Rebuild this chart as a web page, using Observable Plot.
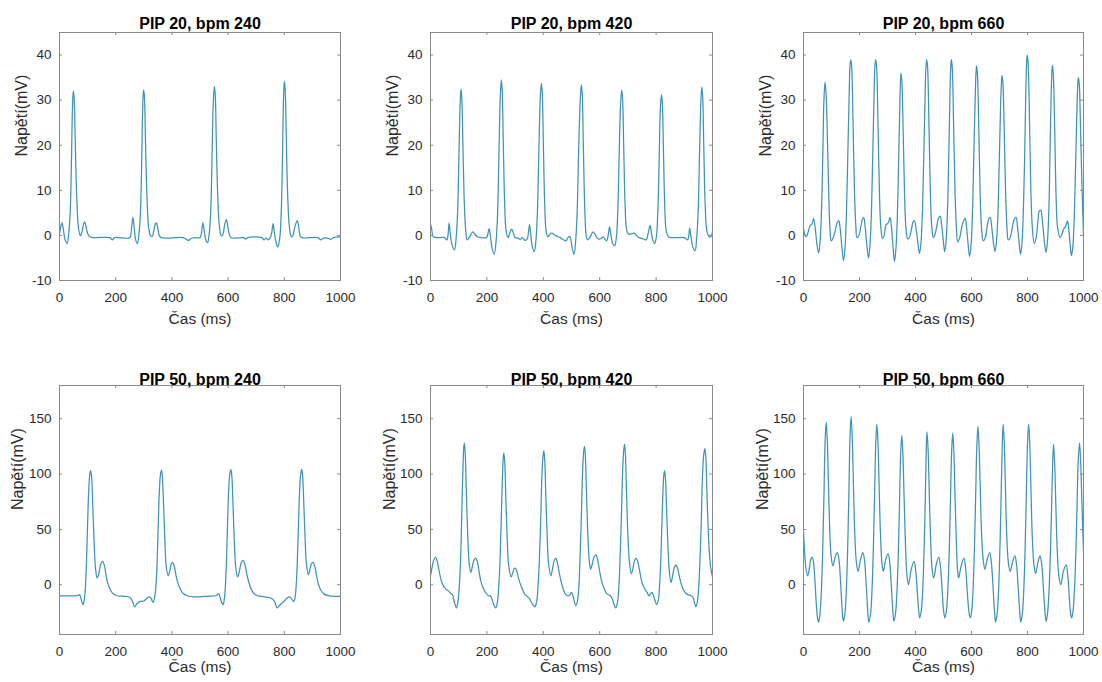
<!DOCTYPE html>
<html>
<head>
<meta charset="utf-8">
<script src="https://cdn.jsdelivr.net/npm/d3@7"></script>
<script src="https://cdn.jsdelivr.net/npm/@observablehq/plot@0.6"></script>
<style>
  html, body { margin: 0; padding: 0; background: #fff; }
  #wrap { position: relative; width: 1102px; height: 682px; overflow: hidden; font-family: "Liberation Sans", Arial, Helvetica, sans-serif; }
  .panel { position: absolute; }
</style>
</head>
<body>
<div id="wrap"></div>
<script>
// ---------- data ----------
const titles = ["PIP 20, bpm 240", "PIP 20, bpm 420", "PIP 20, bpm 660",
                "PIP 50, bpm 240", "PIP 50, bpm 420", "PIP 50, bpm 660"];
const xLabel = "Čas (ms)";
const yLabel = "Napětí(mV)";
const xTicks = [0, 200, 400, 600, 800, 1000];
const yTicksTop = [-10, 0, 10, 20, 30, 40];
const yTicksBottom = [0, 50, 100, 150];
const yDomainTop = [-10, 45];
const yDomainBottom = [-45, 180];

// [time ms, voltage mV]
const pip20bpm240 = [[0,0.3],[4,1.8],[9,2.8],[14,1.2],[20,-1],[27,-1.8],[33,0.5],[38,5],[43,18],[46,28],[49,32],[52,30.5],[56,21],[61,9],[67,2],[74,-0.1],[80,0.8],[86,2.6],[90,3],[95,1.8],[101,0.3],[108,-0.3],[120,-0.5],[180,-0.5],[188,-1],[196,-0.5],[250,-0.5],[255,0.8],[261,4],[266,1.5],[271,-1],[277,-1.8],[283,0.5],[288,5],[293,18],[296,28],[299,32.3],[302,31],[306,21],[311,9],[317,2],[324,-0.1],[330,-0.2],[336,1.2],[341,2.5],[345,2.8],[350,1.5],[355,0],[362,-0.5],[440,-0.5],[452,-0.9],[460,-1.1],[468,-0.7],[480,-0.5],[500,-0.5],[505,0.5],[510,2.8],[515,1],[521,-1],[527,-1.6],[533,0.5],[538,5],[543,18],[547,29],[551,33],[554,31.5],[558,21],[563,9],[569,2],[576,-0.1],[582,0.3],[588,2.5],[594,3.5],[599,2],[604,0.3],[611,-0.5],[655,-0.5],[662,-0.8],[670,-0.5],[720,-0.5],[728,-1],[735,-0.6],[742,-1],[750,-0.5],[755,0.5],[760,2.6],[765,0.5],[771,-1.5],[777,-2.6],[784,-0.5],[789,5],[794,19],[797,30],[800,34.2],[803,32.5],[807,22],[812,9],[818,2],[825,-0.3],[831,0],[838,2],[846,3.3],[851,2],[856,0],[862,-0.5],[920,-0.5],[930,-1],[940,-0.6],[955,-0.6],[965,-0.9],[975,-0.5],[1000,-0.3]];

const pip20bpm420 = [[0,2.5],[4,1.5],[9,-0.2],[20,-0.5],[50,-0.5],[58,-1],[62,0],[66,2.7],[70,0.5],[76,-2],[85,-3.2],[91,-0.5],[96,5],[101,18],[105,29],[108,32.5],[111,30.5],[115,20],[120,7],[125,1],[130,-1],[137,-0.5],[144,0.3],[151,0.8],[158,0.2],[166,-0.3],[180,-0.5],[198,-0.5],[203,0.2],[208,1.5],[213,-0.5],[219,-3],[226,-4.2],[233,-1],[238,5],[243,19],[247,30],[251,34.5],[254,32.5],[258,21],[263,7],[268,1],[275,-0.5],[281,0.5],[288,1.4],[294,0.5],[300,-0.5],[310,-0.6],[318,-0.9],[325,-0.5],[335,-1.1],[343,-0.8],[347,0.5],[351,2.4],[355,0.5],[361,-2.5],[368,-3.6],[374,-1],[379,5],[384,18],[389,30],[393,33.7],[396,32],[400,21],[405,7],[410,1],[416,-0.3],[423,0.2],[430,0.5],[438,0.2],[445,-0.1],[460,-0.5],[470,-0.9],[480,-1.2],[486,-0.6],[490,-0.3],[494,-0.2],[498,-1],[503,-3],[509,-4.2],[515,-1],[520,5],[525,18],[531,30],[535,33.4],[538,31.5],[542,20],[547,6],[552,0],[556,-1],[565,-0.5],[576,0.8],[583,0.3],[590,-0.5],[597,-0.8],[605,-0.7],[612,-0.3],[618,-0.8],[625,-1.2],[630,0],[635,1.9],[640,0],[646,-1.8],[653,-2.3],[659,-0.5],[664,5],[669,18],[674,29],[678,32.3],[681,30.5],[685,20],[690,7],[695,1.5],[702,0.3],[712,0.3],[722,0.5],[730,0],[740,-0.5],[755,-0.8],[765,-1],[772,0.5],[779,2.2],[784,0.3],[789,-1.2],[795,-1.8],[801,-0.3],[806,5],[811,17],[815,28],[819,31.2],[822,29.5],[826,19],[831,6],[836,1],[844,-0.3],[860,-0.5],[900,-0.5],[912,-1],[916,0],[919,1.6],[923,0],[930,-2.5],[938,-3.4],[944,-0.5],[949,5],[954,18],[959,30],[962,32.9],[965,31],[969,20],[974,7],[980,1],[988,-0.3],[994,-0.3],[1000,0.8]];

const pip20bpm660 = [[0,1.5],[5,0.2],[10,-0.3],[17,0.8],[24,2.2],[30,2.5],[36,3.8],[42,1.5],[48,-2],[54,-3.9],
[59,-1.5],[64,5],[69,18],[73,30],[77,34],[81,31],[86,20],[91,7],[95,1],[99,-1.2],[106,-0.5],[113,1],[120,2.8],[126,3.3],[131,1.5],[137,-2.5],[143,-5.6],
[148,-3],[153,4],[158,17],[163,31],[166,37.5],[169,39],[172,37.5],[177,25],[182,10],[187,2],[191,-0.5],[198,0],[205,2],[210,3.5],[215,4],[220,2],[226,-2],[232,-5],
[237,-2.5],[242,4],[247,17],[252,31],[255,37.5],[258,39],[261,37.5],[266,25],[271,10],[276,2],[282,-0.7],[288,0],[294,2.3],[298,2.5],[303,2.8],[309,4],[314,2],[319,-2],[325,-5.8],
[330,-3],[335,4],[340,17],[344,29],[348,36],[351,34.5],[356,23],[361,9],[366,1.5],[372,-0.8],[379,-0.3],[386,1.5],[391,3],[396,3.3],[402,1.5],[408,-1.5],[414,-4],
[419,-2],[424,4],[429,16],[434,30],[437,37],[440,39],[443,37.5],[448,25],[453,10],[458,2],[464,-0.5],[470,0.3],[476,2],[482,3.8],[488,4.3],[493,2.5],[499,-1],[504,-3.6],
[509,-1.5],[514,5],[519,18],[523,31],[526,37.5],[528,39],[531,37.5],[536,25],[541,10],[546,2],[551,-1.5],[558,-0.5],[564,1.5],[570,3],[574,3.5],[578,3.8],[582,2],[588,-2],[593,-4.7],
[598,-2.5],[603,4],[608,17],[613,30],[616,36],[618,37.6],[621,36],[626,24],[631,9],[636,1.5],[642,-1.2],[649,-0.5],[655,1.5],[661,3.5],[667,4],[672,2],[678,-1.5],[684,-3.6],
[689,-1.5],[694,4],[699,16],[704,29],[707,34],[709,35.5],[712,34],[717,23],[722,9],[727,1.5],[731,-1],[738,-0.5],[745,1.5],[752,3.5],[759,4],[764,2],[770,-1.5],[775,-4.2],
[780,-2],[785,5],[790,18],[794,32],[797,38.5],[799,40],[802,38.5],[807,26],[812,10],[817,2],[824,-1.8],[831,-0.5],[837,3],[842,5.4],[847,5.6],[852,4],[858,0],[866,-3.8],
[871,-1.5],[876,5],[880,17],[884,30],[887,36],[889,37.7],[892,36],[897,24],[902,9],[907,2],[916,-0.5],[923,0.3],[930,1.5],[936,2],[943,3.2],[948,1],[953,-2.5],[957,-4.5],
[962,-2.5],[967,4],[972,16],[977,29],[980,34],[982,35],[985,33.5],[990,22],[995,10],[1000,0]];

const pip50bpm240 = [[0,-10],[30,-10],[60,-10],[66,-9.5],[71,-9],[76,-12],[80,-16],[84,-18],[88,-14],[92,-3],[96,20],[100,55],[104,85],[108,100],[111,103],[114,98],[118,75],[123,40],[128,15],[134,6],[140,10],[146,18],[153,21],[160,17],[166,8],[172,1],[180,-4],[190,-8],[205,-10],[230,-10.5],[250,-11.5],[258,-14],[268,-20],[276,-17],[288,-15],[296,-15],[304,-14],[312,-12],[321,-11],[327,-13],[333,-16],[338,-12],[343,-2],[347,18],[351,50],[355,82],[359,99],[363,103.5],[366,98],[370,75],[375,40],[380,16],[387,8],[393,13],[398,19],[403,20],[409,16],[415,8],[422,1],[430,-4],[440,-8],[455,-10],[480,-11],[520,-10.5],[555,-10],[562,-9],[567,-8],[572,-12],[577,-16],[582,-18],[586,-14],[590,-3],[594,20],[598,55],[602,85],[606,100],[610,104],[613,99],[617,76],[622,40],[627,16],[634,7],[640,12],[647,20],[654,22],[660,18],[667,9],[674,2],[682,-4],[692,-8],[705,-10],[730,-11],[755,-12.5],[765,-15],[775,-21],[782,-19],[790,-17],[800,-15],[810,-12],[818,-11],[826,-13],[834,-15],[838,-12],[842,-2],[846,18],[850,50],[854,82],[858,99],[862,104.5],[865,99],[869,76],[874,42],[879,18],[886,9],[892,15],[898,19.5],[903,20],[909,16],[915,8],[922,0],[930,-5],[942,-8.5],[960,-10],[980,-10.5],[1000,-10.5]];

const pip50bpm420 = [[0,8],[5,15],[10,21],[18,25],[24,21],[30,13],[36,6],[42,1],[48,-2],[55,-4],[65,-6],[72,-8],[78,-9],[84,-15],[92,-21],[97,-16],[102,-2],[107,25],[111,65],[115,105],[118,124],[120,128],[123,120],[127,85],[132,45],[137,20],[143,11],[148,16],[154,22],[160,24],[166,21],[172,12],[178,4],[185,-2],[195,-7],[205,-10],[212,-10],[218,-13],[224,-18],[231,-21],[237,-16],[242,-2],[247,25],[251,60],[255,97],[258,115],[260,119],[263,112],[267,80],[272,42],[277,18],[286,7],[292,11],[298,15],[303,14],[310,8],[318,1],[326,-4],[335,-9],[345,-11],[352,-13],[360,-17],[370,-20],[376,-16],[381,-3],[386,22],[391,60],[395,98],[399,116],[402,121],[405,113],[409,80],[414,42],[419,18],[427,8],[433,15],[439,22],[444,24],[450,20],[457,10],[464,2],[472,-5],[480,-9],[490,-10],[495,-9],[500,-7],[505,-10],[510,-15],[515,-19],[521,-15],[526,-2],[530,22],[535,62],[539,100],[543,120],[546,125],[549,117],[553,85],[558,45],[563,22],[568,14],[574,19],[580,25],[587,27],[593,22],[600,12],[607,3],[615,-3],[625,-8],[638,-10],[645,-13],[651,-18],[657,-21],[663,-16],[668,-2],[672,22],[677,62],[681,100],[685,121],[688,127],[691,119],[695,85],[700,45],[705,22],[712,10],[718,15],[724,22],[729,24],[735,21],[742,12],[750,2],[758,-3],[768,-7],[775,-10],[781,-8],[786,-7],[792,-11],[797,-15],[802,-18],[808,-14],[812,-2],[816,18],[820,50],[824,82],[827,98],[830,103],[833,97],[837,70],[842,35],[847,12],[853,2],[858,7],[864,15],[870,18],[876,15],[882,8],[890,0],[900,-6],[912,-9],[925,-10],[932,-12],[936,-16],[941,-20],[946,-16],[951,-3],[955,18],[960,55],[964,95],[968,115],[971,121],[973,123],[976,117],[980,85],[985,48],[990,25],[995,13],[1000,7]];

const pip50bpm660 = [[0,48],[4,30],[9,14],[15,8],[21,15],[26,23],[31,25],[36,20],[41,3],[46,-18],[50,-30],[54,-34],
[59,-26],[64,-5],[69,35],[73,80],[77,128],[81,147],[85,130],[89,92],[94,48],[99,25],[105,17],[113,25],[121,29],[127,22],[132,4],[137,-18],[140,-29],[143,-33],
[148,-26],[153,-5],[158,35],[162,82],[166,132],[170,152],[174,134],[178,94],[183,47],[189,20],[195,12],[203,22],[212,29],[218,22],[223,4],[228,-18],[231,-30],[233,-34],
[240,-25],[245,-3],[250,38],[254,82],[258,127],[262,145],[266,128],[270,90],[275,45],[280,20],[285,12],[293,22],[302,28],[308,20],[313,2],[318,-20],[321,-30],[323,-33],
[329,-25],[334,-5],[339,32],[343,75],[347,118],[351,135],[355,118],[359,82],[364,38],[369,10],[375,0],[385,14],[395,21],[401,12],[406,-5],[411,-22],[415,-30],
[421,-23],[426,-3],[431,35],[435,78],[438,118],[441,138],[445,122],[449,84],[454,40],[459,15],[465,6],[474,18],[483,25],[489,17],[494,0],[499,-20],[502,-27],[505,-30],
[511,-22],[516,-2],[521,35],[525,78],[529,120],[533,137],[537,120],[541,82],[546,38],[550,14],[554,6],[563,17],[573,24],[579,15],[584,-3],[589,-20],[593,-28],[596,-30],
[601,-23],[606,-2],[611,38],[615,82],[619,125],[623,143],[627,126],[631,90],[636,46],[642,22],[648,14],[656,23],[665,29],[671,20],[676,2],[681,-20],[684,-30],[686,-34],
[692,-25],[697,-3],[702,38],[706,83],[710,127],[713,145],[717,128],[721,90],[726,44],[732,19],[738,12],[746,20],[755,26],[761,18],[766,0],[771,-20],[774,-30],[776,-34],
[782,-25],[787,-3],[792,38],[796,83],[800,127],[804,145],[808,128],[812,90],[817,44],[823,18],[829,10],[837,20],[845,26],[851,18],[856,0],[861,-20],[864,-29],[867,-33],
[872,-25],[877,-5],[882,30],[886,70],[890,111],[893,127],[897,110],[901,74],[906,33],[912,8],[919,0],[928,12],[938,18],[944,8],[949,-10],[953,-24],[956,-29],[958,-30],
[963,-23],[968,-3],[973,32],[977,72],[981,111],[986,128],[990,110],[994,77],[997,52],[1000,30]];

const series = [pip20bpm240, pip20bpm420, pip20bpm660, pip50bpm240, pip50bpm420, pip50bpm660];

// ---------- layout ----------
const cols = [
  {left: 0,   width: 367, ml: 59, mr: 27},
  {left: 367, width: 367, ml: 63, mr: 22},
  {left: 734, width: 368, ml: 69, mr: 19}
];
const rows = [
  {top: 0,   height: 330, mt: 32, mb: 50, yDomain: yDomainTop, yTicks: yTicksTop, titleDy: -4, xLabDy: 39, yLabDx: [-38, -38, -37.5]},
  {top: 330, height: 352, mt: 55, mb: 48, yDomain: yDomainBottom, yTicks: yTicksBottom, titleDy: -1, xLabDy: 33, yLabDx: [-42, -41, -40.5]}
];

const frameColor = "#8a8a8a";
const lineColor = "#3f93b6";
const textColor = "#2b2b2b";
const wrap = document.getElementById("wrap");

rows.forEach((r, ri) => {
  cols.forEach((c, ci) => {
    const idx = ri * 3 + ci;
    const data = series[idx].map(([t, v]) => ({t, v}));
    const fw = c.width - c.ml - c.mr;
    const fh = r.height - r.mt - r.mb;
    const chart = Plot.plot({
      width: c.width,
      height: r.height,
      marginLeft: c.ml, marginRight: c.mr, marginTop: r.mt, marginBottom: r.mb,
      style: {fontFamily: '"Liberation Sans", Arial, Helvetica, sans-serif', fontSize: "13.5px", color: textColor, background: "transparent"},
      x: {domain: [0, 1000]},
      y: {domain: r.yDomain},
      marks: [
        Plot.line(data, {x: "t", y: "v", stroke: lineColor, strokeWidth: 1.25, curve: "catmull-rom", clip: true}),
        Plot.frame({stroke: frameColor, strokeWidth: 1}),
        // inward ticks on all four sides
        Plot.tickX(xTicks, {x: d => d, insetTop: fh - 3, stroke: frameColor}),
        Plot.tickX(xTicks, {x: d => d, insetBottom: fh - 3, stroke: frameColor}),
        Plot.tickY(r.yTicks, {y: d => d, insetRight: fw - 3, stroke: frameColor}),
        Plot.tickY(r.yTicks, {y: d => d, insetLeft: fw - 3, stroke: frameColor}),
        Plot.axisX({ticks: xTicks, tickFormat: d => String(d), tickSize: 0, tickPadding: 12, label: null, fill: textColor, fontSize: 13.5}),
        Plot.axisY({ticks: r.yTicks, tickFormat: d => String(d), tickSize: 0, tickPadding: 8, label: null, fill: textColor, fontSize: 13.5}),
        Plot.text([titles[idx]], {frameAnchor: "top", lineAnchor: "bottom", dy: r.titleDy, fontWeight: "bold", fontSize: 16, fill: "#000"}),
        Plot.text([xLabel], {frameAnchor: "bottom", lineAnchor: "middle", dy: r.xLabDy, fontSize: 15.5, fill: textColor}),
        Plot.text([yLabel], {frameAnchor: "left", lineAnchor: "middle", rotate: -90, dx: r.yLabDx[ci], fontSize: 16, fill: textColor})
      ]
    });
    const div = document.createElement("div");
    div.className = "panel";
    div.style.left = c.left + "px";
    div.style.top = r.top + "px";
    div.appendChild(chart);
    wrap.appendChild(div);
  });
});
</script>
</body>
</html>
